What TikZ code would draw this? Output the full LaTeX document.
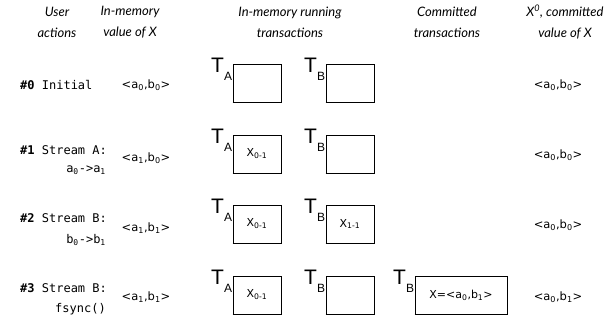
\documentclass[tikz,border=0pt]{standalone}
\usepackage{fontspec}
\setmainfont{DejaVu Sans}
\newfontfamily\hdfont{Lato}
\newfontfamily\monofont{DejaVu Sans Mono}
\newfontfamily\tfont{Liberation Sans}
\newcommand\TLab[1]{{\fontsize{21}{21}\selectfont T}{\fontsize{12}{12}\selectfont\raisebox{-8pt}{#1}}}
\newcommand\sub[1]{\textsubscript{#1}}
\begin{document}
\begin{tikzpicture}[x=1pt,y=-1pt,
  hdr/.style={font=\hdfont\itshape\fontsize{13}{21}\selectfont, align=center, inner sep=0pt},
  act/.style={font=\monofont\fontsize{12}{14}\selectfont, anchor=west, inner sep=0pt},
  acte/.style={font=\monofont\fontsize{12}{14}\selectfont, anchor=east, inner sep=0pt},
  val/.style={font=\fontsize{11.5}{14}\selectfont, inner sep=0pt},
  tbox/.style={draw, line width=0.7pt, minimum width=48pt, minimum height=38pt, inner sep=0pt, font=\fontsize{11}{13}\selectfont},
  cbox/.style={tbox, minimum width=92pt},
  tlab/.style={font=\tfont, anchor=base west, inner sep=0pt},
  bottom/.style={line width=1.5pt}]
\useasboundingbox (0,0) rectangle (609,321);
% headers
\node[hdr] (h1) at (57,22) {User\\actions};
\node[hdr] (h2) at (130,22) {In-memory\\value of X};
\node[hdr] (h3) at (290,22) {In-memory running\\transactions};
\node[hdr] (h4) at (447,22) {Committed\\transactions};
\node[hdr] (h5) at (565,22) {X\textsuperscript{0}, committed\\value of X};
% user actions
\node[act] (a0) at (20,85) {\textbf{\#0} Initial};
\node[act] (a1) at (20,150) {\textbf{\#1} Stream A:};
\node[acte] (a1b) at (106,170) {a\sub{0}->a\sub{1}};
\node[act] (a2) at (20,218) {\textbf{\#2} Stream B:};
\node[acte] (a2b) at (106,240) {b\sub{0}->b\sub{1}};
\node[act] (a3) at (20,288) {\textbf{\#3} Stream B:};
\node[acte] (a3b) at (106,309) {fsync()};
% in-memory values
\node[val] (v0) at (146,85) {<a\sub{0},b\sub{0}>};
\node[val] (v1) at (146,158) {<a\sub{1},b\sub{0}>};
\node[val] (v2) at (146,228) {<a\sub{1},b\sub{1}>};
\node[val] (v3) at (146,297) {<a\sub{1},b\sub{1}>};
% committed values
\node[val] (c0) at (558,85) {<a\sub{0},b\sub{0}>};
\node[val] (c1) at (558,155) {<a\sub{0},b\sub{0}>};
\node[val] (c2) at (558,225) {<a\sub{0},b\sub{0}>};
\node[val] (c3) at (558,297) {<a\sub{0},b\sub{1}>};
% running transactions
\node[tbox] (ta0) at (257,83) {};
\node[tbox] (tb0) at (350,83) {};
\node[tbox] (ta1) at (257,154) {X\sub{0-1}};
\node[tbox] (tb1) at (350,154) {};
\node[tbox] (ta2) at (257,224) {X\sub{0-1}};
\node[tbox] (tb2) at (350,224) {X\sub{1-1}};
\node[tbox] (ta3) at (257,295) {X\sub{0-1}};
\node[tbox] (tb3) at (350,295) {};
\node[cbox] (cb3) at (461,295) {X=<a\sub{0},b\sub{1}>};
\foreach \n in {ta0,tb0,ta1,tb1,ta2,tb2,ta3,tb3,cb3}
  \draw[bottom] (\n.south west) -- (\n.south east);
% T labels
\node[tlab] (lta0) at (211,72) {\TLab{A}};
\node[tlab] (ltb0) at (304,72) {\TLab{B}};
\node[tlab] (lta1) at (211,143) {\TLab{A}};
\node[tlab] (ltb1) at (304,143) {\TLab{B}};
\node[tlab] (lta2) at (211,213) {\TLab{A}};
\node[tlab] (ltb2) at (304,213) {\TLab{B}};
\node[tlab] (lta3) at (211,284) {\TLab{A}};
\node[tlab] (ltb3) at (304,284) {\TLab{B}};
\node[tlab] (lcb3) at (393,284) {\TLab{B}};
\end{tikzpicture}
\end{document}
